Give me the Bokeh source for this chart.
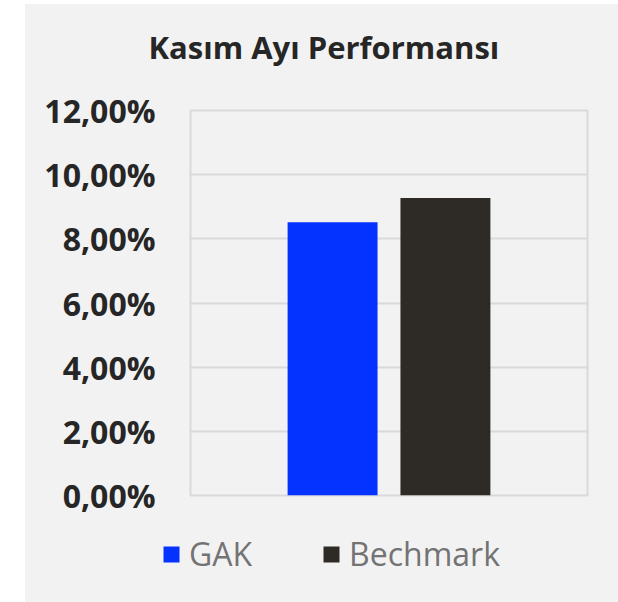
from bokeh.plotting import figure
from bokeh.layouts import column
from bokeh.models import FactorRange, Range1d, FixedTicker, Legend, LegendItem, Title
from bokeh.embed import file_html
from bokeh.resources import INLINE

title_text = "Kasım Ayı Performansı"
categories = ["GAK", "Bechmark"]
values = [8.52, 9.27]
colors = ["#0433FF", "#2E2B26"]
y_ticks = [0, 2, 4, 6, 8, 10, 12]
y_tick_labels = ["0,00%", "2,00%", "4,00%", "6,00%", "8,00%", "10,00%", "12,00%"]

BG = "#F2F2F2"
GRID = "#D9D9D9"

p = figure(
    x_range=FactorRange(factors=categories, range_padding=0.759),
    y_range=Range1d(0, 12),
    width=593, height=520,
    frame_width=397, frame_height=385,
    min_border_left=165, min_border_right=31, min_border_top=106, min_border_bottom=29,
    output_backend="svg", toolbar_location=None,
    background_fill_color=BG, border_fill_color=BG,
)

for i in range(len(categories)):
    p.vbar(x=[categories[i]], top=[values[i]], width=0.797, color=colors[i], line_color=None)

p.xaxis.visible = False
p.xgrid.visible = False
p.ygrid.grid_line_color = GRID
p.ygrid.grid_line_width = 2
p.outline_line_color = GRID
p.outline_line_width = 2

ax = p.yaxis[0]
ax.ticker = FixedTicker(ticks=y_ticks)
ax.major_label_overrides = {t: l for t, l in zip(y_ticks, y_tick_labels)}
ax.axis_line_color = None
ax.major_tick_line_color = None
ax.minor_tick_line_color = None
ax.major_tick_out = 0
ax.major_label_standoff = 35
ax.major_label_text_font = "Open Sans"
ax.major_label_text_font_style = "bold"
ax.major_label_text_font_size = "32px"
ax.major_label_text_color = "#262626"

spacer = Title(text=" ", text_font_size="1px", standoff=40)
p.add_layout(spacer, "above")
title = Title(text=title_text, align="left", offset=-42, standoff=0,
              vertical_align="bottom",
              text_font="Open Sans", text_font_style="bold", text_font_size="31px",
              text_color="#262626")
p.add_layout(title, "above")

# legend strip: swatch renderers hold the series values but sit outside the visible range
p2 = figure(
    x_range=Range1d(0, 1), y_range=Range1d(0, 1),
    width=593, height=78, frame_width=593, frame_height=78,
    min_border=0, x_axis_type=None, y_axis_type=None,
    output_backend="svg", toolbar_location=None,
    background_fill_color=BG, border_fill_color=BG, outline_line_color=None,
)
p2.grid.visible = False
swatches = [p2.vbar(x=[-5], top=[-values[i]], bottom=[-20], width=0.1,
                    color=colors[i], line_color=None)
            for i in range(len(categories))]

legend = Legend(
    items=[LegendItem(label=categories[i], renderers=[swatches[i]]) for i in range(len(categories))],
    orientation="horizontal", location=(136, 27),
    glyph_width=20, glyph_height=20, label_standoff=8, spacing=69,
    padding=0, margin=0, border_line_color=None, background_fill_alpha=0,
    label_text_font="Open Sans", label_text_font_size="32px", label_text_color="#737373",
)
p2.add_layout(legend, "center")

layout = column(p, p2, spacing=0,
                styles={"margin": "4px 0px 0px 25px", "background-color": BG})

open("out.html", "w").write(file_html(layout, INLINE))
